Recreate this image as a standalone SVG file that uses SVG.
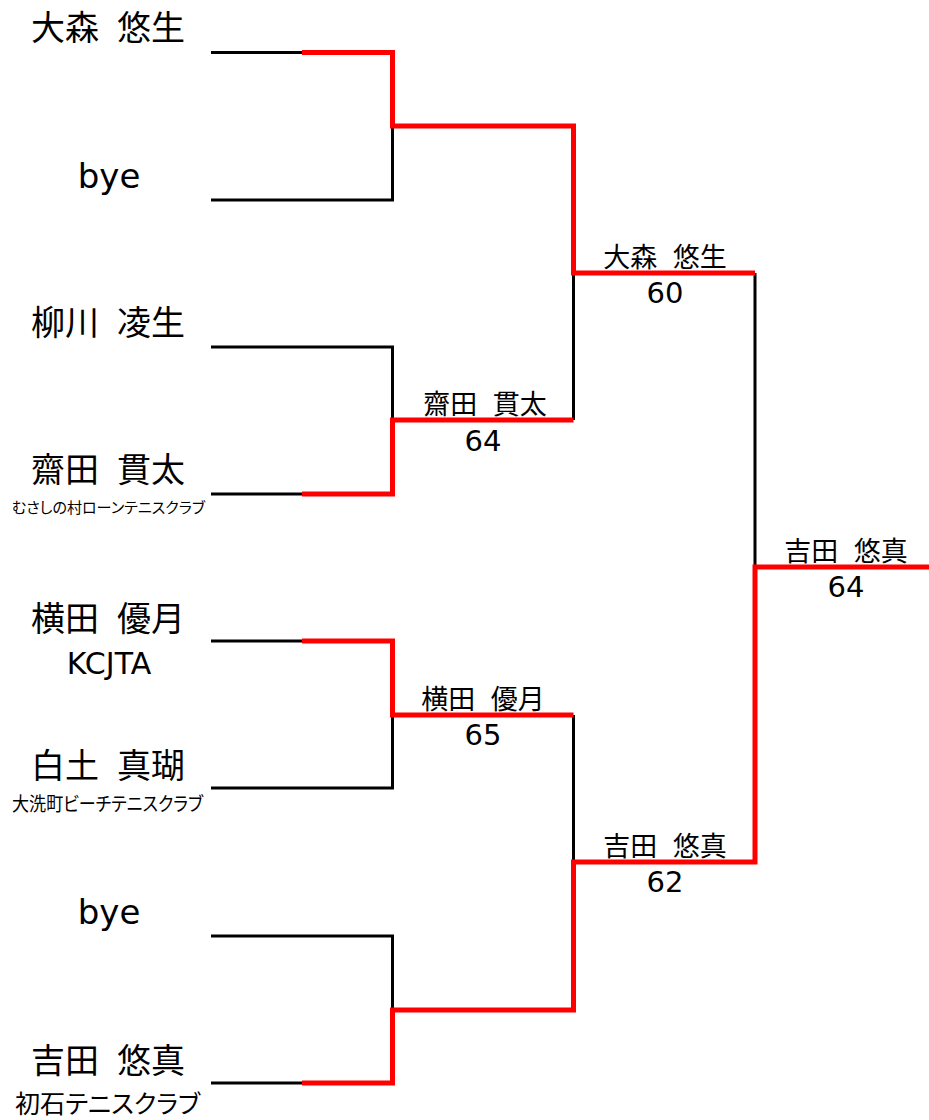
<svg xmlns="http://www.w3.org/2000/svg" width="929" height="1120" viewBox="0 0 929 1120">
<style>
  text { fill: #000; }
  .big { font-family: "DejaVu Sans", "Noto Sans CJK JP", sans-serif; font-size: 34px; text-anchor: middle; word-spacing: 7px; }
  .lbl { font-family: "DejaVu Sans", "Noto Sans CJK JP", sans-serif; font-size: 27px; text-anchor: middle; word-spacing: 7px; }
  .score { font-family: "DejaVu Sans", "Noto Sans CJK JP", sans-serif; font-size: 29px; text-anchor: middle; }
  .club { font-family: "Noto Sans CJK JP", sans-serif; font-feature-settings: "palt"; }
  .latin { font-family: "DejaVu Sans", sans-serif; font-size: 30px; text-anchor: middle; }
  .blk { fill: none; stroke: #000; stroke-width: 3; }
  .red { fill: none; stroke: #ff0000; stroke-width: 5; stroke-linejoin: miter; }
</style>
<rect width="929" height="1120" fill="#fff"/>
<g id="connectors">
  <path class="blk" d="M211,52.5H392.5M211,200H392.5V126M211,347H392.5V420M211,494H302M211,641H302M211,788H392.5V715M211,936H392.5V1010M211,1083H302M573.5,420V273M573.5,715V862M755,273V567"/>
  <path class="red" d="M302,52.5H392.5V126H573.5V273H755"/>
  <path class="red" d="M302,494H392.5V420H573.5"/>
  <path class="red" d="M302,641H392.5V715H573.5"/>
  <path class="red" d="M302,1083H392.5V1010H573.5V862H755V567H929"/>
</g>
<g id="p1"><text class="big" x="108" y="40">大森 悠生</text></g>
<g id="p2"><text class="big" x="109" y="188">bye</text></g>
<g id="p3"><text class="big" x="108" y="335">柳川 凌生</text></g>
<g id="p4"><text class="big" x="108" y="482">齋田 貫太</text><text class="club" x="12" y="513" font-size="15" textLength="193" lengthAdjust="spacingAndGlyphs">むさしの村ローンテニスクラブ</text></g>
<g id="p5"><text class="big" x="108" y="631">横田 優月</text><text class="latin" x="109" y="674">KCJTA</text></g>
<g id="p6"><text class="big" x="108" y="778">白土 真瑚</text><text class="club" x="12" y="811" font-size="19" textLength="191" lengthAdjust="spacingAndGlyphs">大洗町ビーチテニスクラブ</text></g>
<g id="p7"><text class="big" x="109" y="924">bye</text></g>
<g id="p8"><text class="big" x="108" y="1073">吉田 悠真</text><text class="club" x="15" y="1113" font-size="25" textLength="185" lengthAdjust="spacingAndGlyphs">初石テニスクラブ</text></g>
<g id="m1"><text class="lbl" x="665" y="267">大森 悠生</text><text class="score" x="665" y="303">60</text></g>
<g id="m2"><text class="lbl" x="485" y="414">齋田 貫太</text><text class="score" x="483" y="451">64</text></g>
<g id="m3"><text class="lbl" x="483" y="709">横田 優月</text><text class="score" x="483" y="745">65</text></g>
<g id="m4"><text class="lbl" x="665" y="856">吉田 悠真</text><text class="score" x="665" y="892">62</text></g>
<g id="m5"><text class="lbl" x="846" y="561">吉田 悠真</text><text class="score" x="846" y="597">64</text></g>
</svg>
